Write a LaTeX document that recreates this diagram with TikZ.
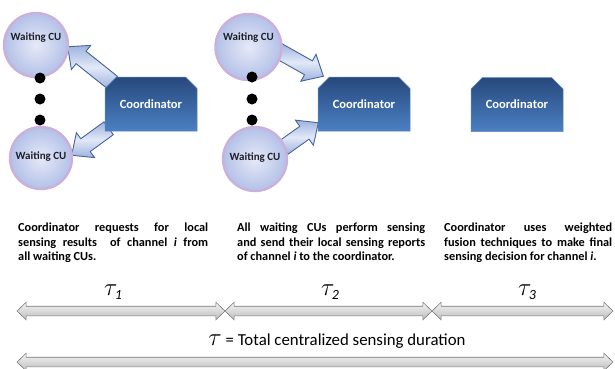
\documentclass[tikz,border=0pt]{standalone}
\usepackage{fontspec}
\setmainfont{Carlito}
\usetikzlibrary{shapes.arrows,shapes.misc,calc}

\definecolor{cuedge}{HTML}{CBB0DC}
\definecolor{cuin}{HTML}{E6E9F7}
\definecolor{cuout}{HTML}{B3C1E8}
\definecolor{cutext}{HTML}{1E1E2A}
\definecolor{boxtop}{HTML}{27497C}
\definecolor{boxbot}{HTML}{4B80C3}
\definecolor{boxedge}{HTML}{5F86BE}
\definecolor{arrfillA}{HTML}{9DB2DF}
\definecolor{arrfillB}{HTML}{E2E9F7}
\definecolor{arredge}{HTML}{47659A}
\definecolor{tledge}{HTML}{7A7A7A}
\definecolor{tltop}{HTML}{F4F4F4}
\definecolor{tlbot}{HTML}{BDBDBD}

% block arrow drawn from a tail point to a tip point
\newcommand\blockarrow[3]{%
  \path let \p1=($(#3)-(#2)$), \n1={atan2(\y1,\x1)}, \n2={veclen(\x1,\y1)} in
    node[blockarr, rotate=\n1, minimum height=\n2, anchor=tail] (#1) at (#2) {};}
% duration symbol with its index
\newcommand\durlabel[1]{{\fontsize{25}{26}\selectfont$\tau$}\kern-2.5pt\raisebox{-3.5pt}{\fontsize{14}{14}\selectfont\itshape #1}}

\begin{document}
\begin{tikzpicture}[x=1pt,y=-1pt,
  cu/.style={circle, draw=cuedge, line width=2.4pt, inner color=cuin,
    outer color=cuout, minimum size=#1, inner sep=0pt},
  culabel/.style={font=\fontsize{11}{12}\selectfont\bfseries, text=cutext, inner sep=0pt},
  dot/.style={circle, fill=black, minimum size=11pt, inner sep=0pt},
  coordbox/.style={chamfered rectangle, chamfered rectangle corners={north west,north east},
    chamfered rectangle xsep=5pt, chamfered rectangle ysep=7pt,
    minimum width=92pt, minimum height=54pt, inner sep=0pt,
    top color=boxtop, bottom color=boxbot, draw=boxedge, line width=0.5pt,
    text=white, font=\fontsize{12.5}{14}\selectfont\bfseries},
  blockarr/.style={single arrow, draw=arredge, line width=0.9pt,
    top color=arrfillA, bottom color=arrfillA, middle color=arrfillB,
    inner xsep=0pt, inner ysep=7.5pt, single arrow head extend=7.5pt,
    single arrow tip angle=84, minimum width=1pt},
  para/.style={text width=#1, align=justify, inner sep=0pt, anchor=north west,
    font=\fontsize{12.3}{14.5}\selectfont\bfseries, text=black},
  tl/.style={double arrow, draw=tledge, line width=0.6pt, top color=tltop,
    bottom color=tlbot, double arrow head extend=4pt, inner xsep=0pt,
    inner ysep=4.5pt, double arrow tip angle=88, minimum width=1pt, minimum height=#1},
  taulabel/.style={inner sep=0pt}
]
\useasboundingbox (0,0) rectangle (615,368);

% ---------- stage 1: coordinator requests ----------
\coordinate (a1tail) at (113,83);
\coordinate (a1tip) at (68,47);
\coordinate (a2tail) at (109,128);
\coordinate (a2tip) at (72,155);
\blockarrow{req1}{a1tail}{a1tip}
\blockarrow{req2}{a2tail}{a2tip}
\node[cu=64pt] (cu1a) at (36,45) {};
\node[culabel] (cu1at) at (36,38) {Waiting CU};
\node[cu=62pt] (cu1b) at (41,158) {};
\node[culabel] (cu1bt) at (41,157) {Waiting CU};
\node[dot] (d1a) at (40,78) {};
\node[dot] (d1b) at (40,99) {};
\node[dot] (d1c) at (40,120) {};
\node[coordbox] (co1) at (151,104) {Coordinator};

% ---------- stage 2: CUs report to coordinator ----------
\coordinate (b1tail) at (277,50);
\coordinate (b1tip) at (323,76);
\coordinate (b2tail) at (283,148);
\coordinate (b2tip) at (318,123);
\blockarrow{rep1}{b1tail}{b1tip}
\blockarrow{rep2}{b2tail}{b2tip}
\node[cu=66pt] (cu2a) at (248.5,47) {};
\node[culabel] (cu2at) at (248.5,38) {Waiting CU};
\node[cu=64pt] (cu2b) at (255,159) {};
\node[culabel] (cu2bt) at (255,158) {Waiting CU};
\node[dot] (d2a) at (252,77) {};
\node[dot] (d2b) at (252,99) {};
\node[dot] (d2c) at (252,120) {};
\node[coordbox] (co2) at (364,104) {Coordinator};

% ---------- stage 3: fusion ----------
\node[coordbox] (co3) at (517,104.5) {Coordinator};

% ---------- descriptions ----------
\node[para=190pt] (p1) at (18,223) {Coordinator requests for local\linebreak
  sensing results\ \ of channel \textit{i} from\linebreak all waiting CUs.};
\node[para=188pt] (p2) at (237,223) {All waiting CUs perform sensing\linebreak
  and send their local sensing reports\linebreak of channel \textit{i} to the coordinator.};
\node[para=168pt] (p3) at (444,223) {Coordinator uses weighted\linebreak
  fusion techniques to make final\linebreak sensing decision for channel \textit{i}.};

% ---------- timeline ----------
\node[tl=208pt] (t1) at (121,311) {};
\node[tl=207pt] (t2) at (328.5,311) {};
\node[tl=181pt] (t3) at (522.5,311) {};
\node[tl=596pt] (tt) at (315,362) {};
\node[taulabel] (l1) at (113,292) {\durlabel{1}};
\node[taulabel] (l2) at (330,292) {\durlabel{2}};
\node[taulabel] (l3) at (527,292) {\durlabel{3}};
\node[inner sep=0pt, font=\fontsize{16.8}{18}\selectfont] (ltot) at (337,341)
  {{\fontsize{25}{26}\selectfont$\tau$} = Total centralized sensing duration};
\end{tikzpicture}
\end{document}
